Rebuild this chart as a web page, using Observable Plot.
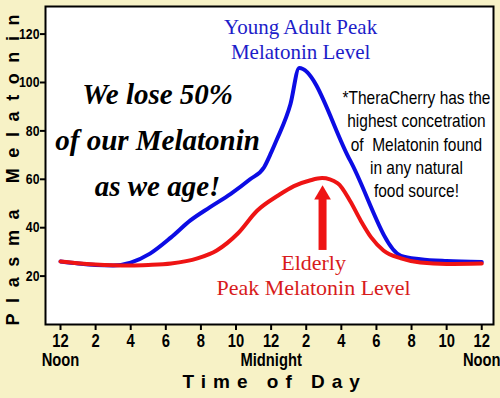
<!DOCTYPE html>
<html><head><meta charset="utf-8">
<script src="https://cdn.jsdelivr.net/npm/d3@7"></script>
<script src="https://cdn.jsdelivr.net/npm/@observablehq/plot@0.6"></script>
<style>
html,body{margin:0;padding:0;background:#f7f2c6;}
#chart{width:500px;height:398px;}
</style></head><body><div id="chart"></div>
<script>
// hours after 12 noon
const youngHours = [0,1,2,3,4,5.1,6.3,7.4,8.5,9.7,10.8,11.6,12.0,12.3,13.1,13.6,16.5,19.4,20.5,22,24];
const youngValues = [26,25.2,24.6,24.4,25.6,29.3,36,43,48.4,54,60,65,71,76,91,106,67.8,28.4,27,26.2,25.8];
const elderlyHours = [0,1,2,3,4,5,6.3,7.8,8.9,10.1,11.2,12.4,13.3,14.2,14.9,15.8,16.5,17.1,17.7,18.4,19.4,20.5,22,24];
const elderlyValues = [26,25.3,24.8,24.5,24.4,24.6,25.2,27.3,30.6,37.6,47,53.3,57.2,59.5,60.5,58.3,51,43,36,30.6,27.3,25.6,25,25.2];

const xTicks = [0,2,4,6,8,10,12,14,16,18,20,22,24];
const xTickLabels = ["12\nNoon","2","4","6","8","10","12\nMidnight","2","4","6","8","10","12\nNoon"];
const yTicks = [20,40,60,80,100,120];

const youngNote = ["Young Adult Peak\nMelatonin Level"];
const elderlyNote = ["Elderly\nPeak Melatonin Level"];
const scriptNote = ["We lose 50%\nof our Melatonin\nas we age!"];
const cherryNote = ["*TheraCherry has the\nhighest concetration\nof \u00a0Melatonin found\nin any natural\nfood source!"];
const xTitle = ["Time of Day"];
const yTitle = ["Plasma Melatonin"];

const arrowHour = [14.93];

const sans = "'Liberation Sans',Arial,sans-serif";
const serif = "'Liberation Serif','Times New Roman',serif";
const BLUE = "#0c0ce4", RED = "#ee1414";

const chart = Plot.plot({
  width: 500, height: 398,
  marginLeft: 45, marginRight: 7, marginTop: 6, marginBottom: 74,
  style: {background: "transparent", color: "black", fontFamily: sans, overflow: "visible"},
  x: {domain: [-0.855, 24.67]},
  y: {domain: [0, 131.4]},
  marks: [
    Plot.frame({fill: "white", stroke: null}),
    Plot.axisX({ticks: xTicks, tickFormat: d => xTickLabels[xTicks.indexOf(d)], tickSize: 6, tickPadding: 3,
      strokeWidth: 2, fontSize: 18, fontWeight: "bold", lineHeight: 1.05, label: null, fontFamily: sans}),
    Plot.axisY({ticks: yTicks, tickSize: 5, tickPadding: 1, strokeWidth: 2, fontSize: 15, fontWeight: "bold",
      label: null, fontFamily: sans}),
    Plot.line(youngValues, {x: youngHours, y: youngValues, stroke: BLUE, strokeWidth: 4, curve: "monotone-x"}),
    Plot.line(elderlyValues, {x: elderlyHours, y: elderlyValues, stroke: RED, strokeWidth: 4, curve: "monotone-x"}),
    Plot.ruleX(arrowHour, {x: d => d, y1: 30.6, y2: 52, stroke: RED, strokeWidth: 8}),
    Plot.dot(arrowHour, {x: d => d, y: 53.6, symbol: "triangle", r: 6.2, fill: RED, stroke: null}),
    Plot.text(youngNote, {text: d => d, x: 13.68, y: 109.9, lineAnchor: "bottom", textAnchor: "middle",
      fontFamily: serif, fontSize: 21, lineHeight: 1.19, fill: "#1d1dc9"}),
    Plot.text(elderlyNote, {text: d => d, x: 14.42, y: 12.0, lineAnchor: "bottom", textAnchor: "middle",
      fontFamily: serif, fontSize: 22, lineHeight: 1.14, fill: "#d81b1b"}),
    Plot.text(scriptNote, {text: d => d, x: 5.53, y: 52.9, lineAnchor: "bottom", textAnchor: "middle",
      fontFamily: serif, fontStyle: "italic", fontWeight: "bold", fontSize: 29, lineHeight: 1.6, fill: "black"}),
    Plot.text(cherryNote, {text: d => d, x: 20.28, y: 52.5, lineAnchor: "bottom", textAnchor: "middle",
      fontFamily: sans, fontSize: 18, lineHeight: 1.3, fill: "black"}),
    Plot.text(xTitle, {text: d => d, frameAnchor: "bottom-left", dx: 137, dy: 63, lineAnchor: "bottom",
      textAnchor: "start", fontFamily: sans, fontWeight: "bold", fontSize: 19, fill: "black"}),
    Plot.text(yTitle, {text: d => d, frameAnchor: "bottom-left", dx: -27, dy: 1, rotate: -90, lineAnchor: "bottom",
      textAnchor: "start", fontFamily: sans, fontWeight: "bold", fontSize: 18, fill: "black"}),
    Plot.frame({stroke: "black", strokeWidth: 2})
  ]
});

const root = d3.select(chart);
root.selectAll("text").filter(function() { return this.textContent === "Time of Day"; })
  .attr("letter-spacing", 7);
root.selectAll("text").filter(function() { return this.textContent === "Plasma Melatonin"; })
  .attr("letter-spacing", 10.6);
// narrow (condensed) look for tick labels and the TheraCherry note
function narrowText(sel, k) {
  sel.each(function() {
    const t = this.getAttribute("transform") || "";
    this.setAttribute("transform", t + ` scale(${k},1)`);
  });
}
narrowText(root.selectAll("g[aria-label='x-axis tick label'] text, g[aria-label='y-axis tick label'] text"), 0.82);
narrowText(root.selectAll("text").filter(function() { return this.textContent.startsWith("*TheraCherry"); }), 0.86);

document.getElementById("chart").appendChild(chart);
</script>
</body></html>
